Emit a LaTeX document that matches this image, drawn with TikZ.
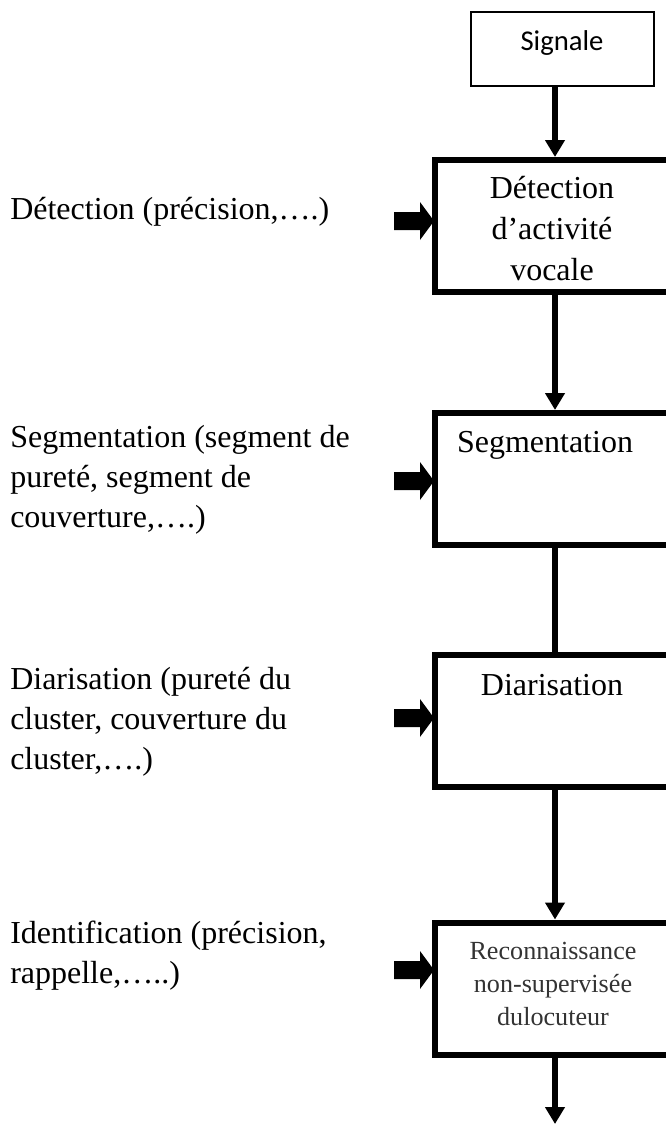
\documentclass[tikz,border=0pt]{standalone}
\usepackage{fontspec}
\setmainfont{Liberation Serif}
\newfontfamily\calibrifont{Carlito}
\usetikzlibrary{arrows.meta,positioning}

\begin{document}
\begin{tikzpicture}[x=0.75pt, y=-0.75pt,
    stage/.style={draw, line width=4.5pt, minimum width=180pt, minimum height=99pt, inner sep=0pt},
    flow/.style={line width=4.5pt, -{Triangle[width=14.25pt, length=12.75pt]}},
    crit/.style={anchor=west, align=left, inner sep=0pt, font=\fontsize{24}{30}\selectfont},
    inside/.style={align=center, inner sep=0pt, font=\fontsize{24}{30.75}\selectfont},
    fatarrow/.pic={\fill (-40,-9) -- (-14,-9) -- (-14,-19) -- (0,0) -- (-14,19) -- (-14,9) -- (-40,9) -- cycle;}]
    \useasboundingbox (0,0) rectangle (666,1124);

    \coordinate (S) at (562.5, 49);
    \coordinate (D) at (555, 226);
    \coordinate (G) at (555, 479);
    \coordinate (R) at (555, 720.5);
    \coordinate (L) at (555, 988.5);
    \coordinate (out) at (555, 1124);

    \node [draw, line width=1.2pt, minimum width=137.5pt, minimum height=55.8pt] (sig) at (S) {};
    \node [stage] (det) at (D) {};
    \node [stage] (seg) at (G) {};
    \node [stage] (dia) at (R) {};
    \node [stage] (rec) at (L) {};

    \node [inner sep=0pt, font=\calibrifont\fontsize{21.5}{26}\selectfont] (sigtext) at (562, 43) {Signale};
    \node [inside] (dettext) at (552, 229) {Détection\\d’activité\\vocale};
    \node [inside] (segtext) at (545, 445) {Segmentation};
    \node [inside] (diatext) at (552, 685) {Diarisation};
    \node [inside, text=black!80, font=\fontsize{19.6}{25}\selectfont] (rectext) at (553, 984) {Reconnaissance\\non-supervisée\\dulocuteur};

    \node [crit] (detcrit) at (10, 212) {Détection (précision,….)};
    \node [crit] (segcrit) at (10, 480) {Segmentation (segment de\\pureté, segment de\\couverture,….)};
    \node [crit] (diacrit) at (10, 722) {Diarisation (pureté du\\cluster, couverture du\\cluster,….)};
    \node [crit] (reccrit) at (10, 956) {Identification (précision,\\rappelle,…..)};

    \draw [flow] (sig.south -| det.north) -- (det.north);
    \draw [flow] (det.south) -- (seg.north);
    \draw [line width=4.5pt] (seg.south) -- (dia.north);
    \draw [flow] (dia.south) -- (rec.north);
    \draw [flow] (rec.south) -- (out);

    \pic at (434, 221) {fatarrow};
    \pic at (434, 481) {fatarrow};
    \pic at (434, 718) {fatarrow};
    \pic at (434, 970) {fatarrow};
  \end{tikzpicture}
\end{document}
